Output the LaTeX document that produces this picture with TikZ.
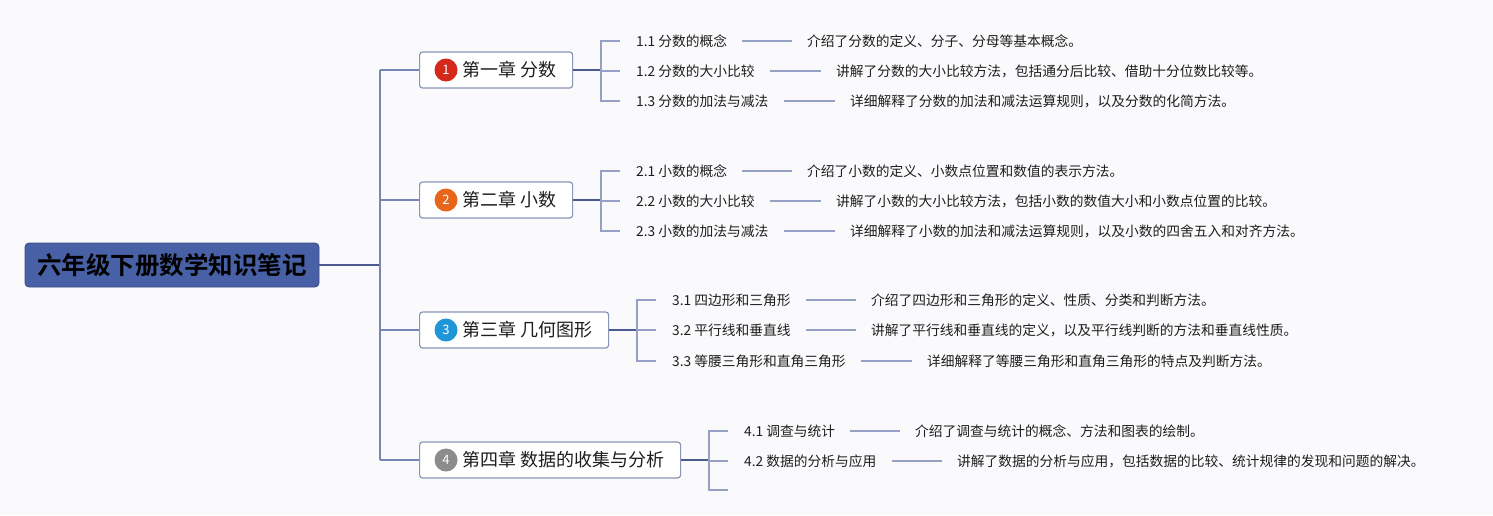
\documentclass[tikz,border=0pt]{standalone}
\usepackage{fontspec}
\setmainfont{Noto Sans CJK SC}
\newfontfamily\cjkbold{Noto Sans CJK SC Bold}
\definecolor{bg}{RGB}{250,250,252}
\definecolor{rootfill}{RGB}{72,96,165}
\definecolor{chapborder}{RGB}{138,148,184}
\definecolor{trunk}{RGB}{120,134,180}
\definecolor{thick}{RGB}{74,90,143}
\definecolor{brk}{RGB}{150,160,196}
\definecolor{txt}{RGB}{30,30,30}
\definecolor{cred}{RGB}{212,40,27}
\definecolor{corange}{RGB}{232,102,26}
\definecolor{cblue}{RGB}{30,150,216}
\definecolor{cgray}{RGB}{140,140,140}
\tikzset{
  rootbox/.style={draw=rootfill!80!black, line width=0.8pt, fill=rootfill, rounded corners=4pt, minimum width=294pt, minimum height=44pt, inner sep=0pt, font=\fontsize{24.5}{28}\selectfont\cjkbold, text=black},
  chap/.style={draw=chapborder, line width=1.2pt, fill=white, rounded corners=3pt, minimum height=36pt, inner ysep=0pt, inner xsep=16pt, font=\fontsize{18}{20}\selectfont, text=txt, anchor=west},
  num/.style={circle, minimum size=23pt, inner sep=0pt, text=white, font=\fontsize{13}{14}\selectfont},
  sub/.style={inner sep=0pt, anchor=west, font=\fontsize{13.75}{15}\selectfont, text=txt},
  trunkline/.style={draw=trunk, line width=1.2pt},
  thickline/.style={draw=thick, line width=2pt},
  brline/.style={draw=brk, line width=1.2pt},
  link/.style={draw=brk, line width=1.4pt, shorten <=15pt, shorten >=15pt},
}
\begin{document}
\begin{tikzpicture}[x=1pt,y=-1pt]
\fill[bg] (0,0) rectangle (1493,515);
\useasboundingbox (0,0) rectangle (1493,515);

% root
\node[rootbox] (root) at (172,265) {六年级下册数学知识笔记};
\coordinate (t) at (380,265);

% chapters
\node[chap] (c1) at (419,70) {\hspace{27pt}第一章 分数};
\node[num, fill=cred] (n1) at (446,70) {1};
\node[chap] (c2) at (419,200) {\hspace{27pt}第二章 小数};
\node[num, fill=corange] (n2) at (446,200) {2};
\node[chap] (c3) at (419,330) {\hspace{27pt}第三章 几何图形};
\node[num, fill=cblue] (n3) at (446,330) {3};
\node[chap] (c4) at (419,460) {\hspace{27pt}第四章 数据的收集与分析};
\node[num, fill=cgray] (n4) at (446,460) {4};

% trunk
\draw[thickline, line width=1.6pt] (root.east) -- (t);
\draw[trunkline] (t|-c1) -- (t|-c4);
\foreach \i in {1,2,3,4} { \draw[trunkline] (t|-c\i) -- (c\i.west); }

% chapter 1
\node[sub] (s11) at (636,41) {1.1 分数的概念};
\node[sub] (d11) at (807,41) {介绍了分数的定义、分子、分母等基本概念。};
\node[sub] (s12) at (636,71) {1.2 分数的大小比较};
\node[sub] (d12) at (836,71) {讲解了分数的大小比较方法，包括通分后比较、借助十分位数比较等。};
\node[sub] (s13) at (636,101) {1.3 分数的加法与减法};
\node[sub] (d13) at (850,101) {详细解释了分数的加法和减法运算规则，以及分数的化简方法。};

% chapter 2
\node[sub] (s21) at (636,171) {2.1 小数的概念};
\node[sub] (d21) at (807,171) {介绍了小数的定义、小数点位置和数值的表示方法。};
\node[sub] (s22) at (636,201) {2.2 小数的大小比较};
\node[sub] (d22) at (836,201) {讲解了小数的大小比较方法，包括小数的数值大小和小数点位置的比较。};
\node[sub] (s23) at (636,231) {2.3 小数的加法与减法};
\node[sub] (d23) at (850,231) {详细解释了小数的加法和减法运算规则，以及小数的四舍五入和对齐方法。};

% chapter 3
\node[sub] (s31) at (672,300) {3.1 四边形和三角形};
\node[sub] (d31) at (871,300) {介绍了四边形和三角形的定义、性质、分类和判断方法。};
\node[sub] (s32) at (672,330) {3.2 平行线和垂直线};
\node[sub] (d32) at (871,330) {讲解了平行线和垂直线的定义，以及平行线判断的方法和垂直线性质。};
\node[sub] (s33) at (672,361) {3.3 等腰三角形和直角三角形};
\node[sub] (d33) at (927,361) {详细解释了等腰三角形和直角三角形的特点及判断方法。};

% chapter 4
\node[sub] (s41) at (744,431) {4.1 调查与统计};
\node[sub] (d41) at (915,431) {介绍了调查与统计的概念、方法和图表的绘制。};
\node[sub] (s42) at (744,461) {4.2 数据的分析与应用};
\node[sub] (d42) at (957,461) {讲解了数据的分析与应用，包括数据的比较、统计规律的发现和问题的解决。};
\coordinate (s43) at (744,490);

% links label -> description
\foreach \a in {11,12,13,21,22,23,31,32,33,41,42} { \draw[link] (s\a.east) -- (d\a.west); }

% brackets
\coordinate (b1) at (601,70);
\coordinate (b2) at (601,200);
\coordinate (b3) at (637,330);
\coordinate (b4) at (709,460);
\draw[thickline] (c1.east) -- (b1);
\draw[thickline] (c2.east) -- (b2);
\draw[thickline] (c3.east) -- (b3);
\draw[thickline] (c4.east) -- (b4);
\draw[brline] ([xshift=-16pt]s11.west) -- (b1|-s11) -- (b1|-s13) -- ([xshift=-16pt]s13.west);
\draw[brline] ([xshift=-16pt]s12.west) -- (b1|-s12);
\draw[brline] ([xshift=-16pt]s21.west) -- (b2|-s21) -- (b2|-s23) -- ([xshift=-16pt]s23.west);
\draw[brline] ([xshift=-16pt]s22.west) -- (b2|-s22);
\draw[brline] ([xshift=-16pt]s31.west) -- (b3|-s31) -- (b3|-s33) -- ([xshift=-16pt]s33.west);
\draw[brline] ([xshift=-16pt]s32.west) -- (b3|-s32);
\draw[brline] ([xshift=-16pt]s41.west) -- (b4|-s41) -- (b4|-s43) -- ([xshift=-16pt]s43);
\draw[brline] ([xshift=-16pt]s42.west) -- (b4|-s42);
\end{tikzpicture}
\end{document}
